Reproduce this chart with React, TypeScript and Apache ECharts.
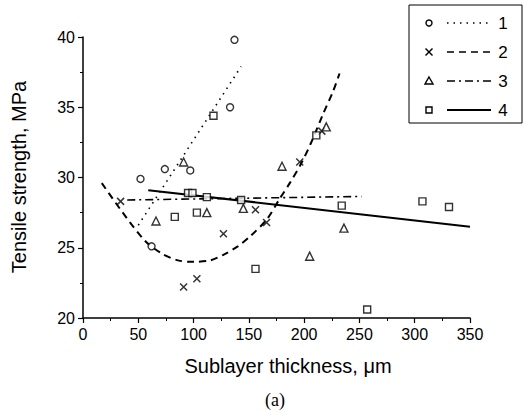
import React, { useEffect, useRef } from "react";
import * as echarts from "echarts";

// Series 1: circles + dotted fit
const circlePoints: number[][] = [[52, 29.9], [62, 25.1], [74, 30.6], [97, 30.5], [133, 35.0], [137, 39.8]];
const fit1: number[][] = [[50, 26.6], [143, 37.9]];
// Series 2: crosses + dashed fit
const crossPoints: number[][] = [[34, 28.3], [91, 22.2], [103, 22.8], [127, 26.0], [156, 27.7], [166, 26.8], [196, 31.1], [216, 33.3]];
const fit2: number[][] = [[17, 29.6], [35, 27.6], [56, 25.5], [71, 24.6], [86, 24.1], [100, 24.0], [115, 24.1], [127, 24.5], [140, 25.1], [151, 25.8], [166, 27.0], [178, 28.5], [187, 29.6], [198, 31.1], [207, 32.6], [217, 34.5], [226, 36.1], [232, 37.4]];
// Series 3: triangles + dash-dot fit
const trianglePoints: number[][] = [[66, 26.9], [91, 31.1], [112, 27.5], [145, 27.8], [180, 30.8], [205, 24.4], [220, 33.6], [236, 26.4]];
const fit3: number[][] = [[40, 28.4], [252, 28.65]];
// Series 4: squares + solid fit
const squarePoints: number[][] = [[83, 27.2], [95, 28.9], [99, 28.9], [103, 27.5], [112, 28.6], [118, 34.4], [143, 28.4], [156, 23.5], [211, 33.0], [234, 28.0], [257, 20.6], [307, 28.3], [331, 27.9]];
const fit4: number[][] = [[59, 29.1], [350, 26.5]];

const legendLabels = ["1", "2", "3", "4"];
const xTitle = "Sublayer thickness, \u03bcm";
const yTitle = "Tensile strength, MPa";
const caption = "(a)";

const FONT = "'Liberation Sans', Arial, Helvetica, sans-serif";
const CROSS = "path://M0,0L10,10M10,0L0,10";

export default function App() {
  const ref = useRef<HTMLDivElement>(null);
  useEffect(() => {
    if (!ref.current) return;
    const chart = echarts.init(ref.current, null, { renderer: "svg" });
    const markerStyle = { color: "#fff", borderColor: "#000", borderWidth: 1.4 };
    const legendY = [23, 52, 81, 110];
    const lx = 429;
    const dashes: any[] = [[1.5, 5], [7, 5], [8, 4, 2, 4], "solid"];
    const legendGraphics: any[] = [
      { type: "rect", shape: { x: 409, y: 5, width: 113, height: 118 }, style: { fill: "none", stroke: "#000", lineWidth: 1 } },
      { type: "circle", shape: { cx: lx, cy: legendY[0], r: 3 }, style: { fill: "#fff", stroke: "#000", lineWidth: 1.4 } },
      { type: "line", shape: { x1: lx - 3.5, y1: legendY[1] - 3.5, x2: lx + 3.5, y2: legendY[1] + 3.5 }, style: { stroke: "#000", lineWidth: 1.4 } },
      { type: "line", shape: { x1: lx - 3.5, y1: legendY[1] + 3.5, x2: lx + 3.5, y2: legendY[1] - 3.5 }, style: { stroke: "#000", lineWidth: 1.4 } },
      { type: "polygon", shape: { points: [[lx, legendY[2] - 4], [lx + 4, legendY[2] + 3], [lx - 4, legendY[2] + 3]] }, style: { fill: "#fff", stroke: "#000", lineWidth: 1.4 } },
      { type: "rect", shape: { x: lx - 3, y: legendY[3] - 3, width: 6, height: 6 }, style: { fill: "#fff", stroke: "#000", lineWidth: 1.4 } },
    ];
    legendLabels.forEach((lab, i) => {
      legendGraphics.push({
        type: "line",
        shape: { x1: 447, y1: legendY[i], x2: 491, y2: legendY[i] },
        style: { stroke: "#000", lineWidth: i === 3 ? 2 : 1.6, lineDash: dashes[i] === "solid" ? null : dashes[i] },
      });
      legendGraphics.push({
        type: "text", x: 503, y: legendY[i],
        style: { text: lab, fontSize: 17, fontFamily: FONT, fill: "#000", textAlign: "center", textVerticalAlign: "middle" },
      });
    });

    const axisCommon = {
      axisLine: { show: true, lineStyle: { color: "#000", width: 1.5 } },
      axisTick: { show: true, inside: false, length: 5, lineStyle: { color: "#000", width: 1.2 } },
      minorTick: { show: true, splitNumber: 2, length: 3, lineStyle: { color: "#000", width: 1 } },
      splitLine: { show: false },
      axisLabel: { color: "#000", fontSize: 16, fontFamily: FONT },
    };

    chart.setOption({
      animation: false,
      backgroundColor: "#fff",
      grid: { left: 83, right: 55, top: 37, bottom: 94, containLabel: false },
      xAxis: { type: "value", min: 0, max: 350, interval: 50, ...axisCommon, axisLabel: { ...axisCommon.axisLabel, margin: 8 } },
      yAxis: { type: "value", min: 20, max: 40, interval: 5, ...axisCommon, axisLabel: { ...axisCommon.axisLabel, margin: 8 } },
      series: [
        { type: "line", data: fit1, symbol: "none", lineStyle: { color: "#000", width: 1.6, type: [1.5, 5] }, z: 2 },
        { type: "line", data: fit2, symbol: "none", smooth: 0.3, lineStyle: { color: "#000", width: 2, type: [7, 5] }, z: 2 },
        { type: "line", data: fit3, symbol: "none", lineStyle: { color: "#000", width: 1.6, type: [8, 4, 2, 4] }, z: 2 },
        { type: "line", data: fit4, symbol: "none", lineStyle: { color: "#000", width: 2 }, z: 2 },
        { type: "scatter", data: circlePoints, symbol: "circle", symbolSize: 7, itemStyle: markerStyle, z: 3 },
        { type: "scatter", data: crossPoints, symbol: CROSS, symbolSize: 7, itemStyle: { color: "transparent", borderColor: "#000", borderWidth: 1.5 }, z: 3 },
        { type: "scatter", data: trianglePoints, symbol: "triangle", symbolSize: 8, itemStyle: markerStyle, z: 3 },
        { type: "scatter", data: squarePoints, symbol: "rect", symbolSize: 7, itemStyle: markerStyle, z: 3 },
      ],
      graphic: [
        ...legendGraphics,
        { type: "text", x: 288, y: 366, style: { text: xTitle, fontSize: 20, fontFamily: FONT, fill: "#000", textAlign: "center", textVerticalAlign: "middle" } },
        { type: "text", x: 19, y: 177, rotation: Math.PI / 2, style: { text: yTitle, fontSize: 20, fontFamily: FONT, fill: "#000", textAlign: "center", textVerticalAlign: "middle" } },
        { type: "text", x: 275, y: 400, style: { text: caption, fontSize: 18, fontFamily: "'Liberation Serif', 'Times New Roman', serif", fill: "#000", textAlign: "center", textVerticalAlign: "middle" } },
      ],
    });
    return () => chart.dispose();
  }, []);
  return <div ref={ref} style={{ width: 525, height: 412, position: "absolute", left: 0, top: 0 }} />;
}
